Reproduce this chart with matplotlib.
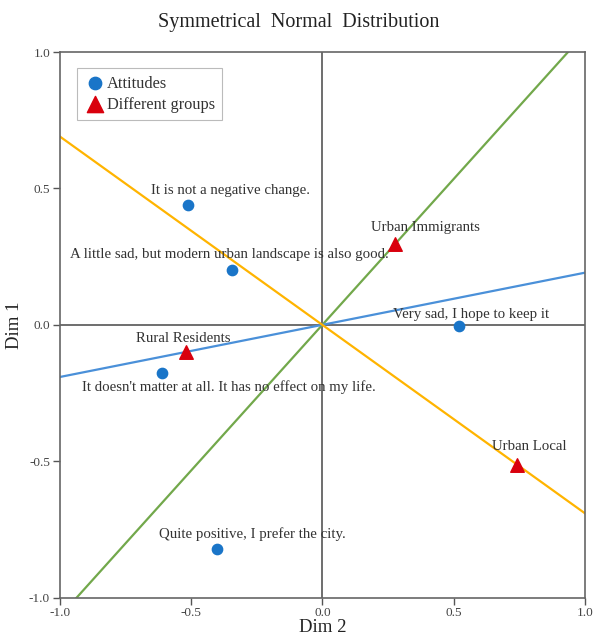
import numpy as np
import matplotlib.pyplot as plt

# ----------------------------
# Data
# ----------------------------
ATT_LABELS = [
    "It is not a negative change.",
    "A little sad, but modern urban landscape is also good.",
    "Very sad, I hope to keep it",
    "It doesn't matter at all. It has no effect on my life.",
    "Quite positive, I prefer the city.",
]
ATT_DIM2 = [-0.51, -0.343, 0.52, -0.61, -0.40]
ATT_DIM1 = [0.44, 0.20, -0.005, -0.175, -0.82]

GRP_LABELS = ["Urban Immigrants", "Rural Residents", "Urban Local"]
GRP_DIM2 = [0.278, -0.518, 0.743]
GRP_DIM1 = [0.297, -0.099, -0.513]

# label offsets in pixels (dx, dy)
ATT_OFFSETS = [(42, 14), (-3, 16), (12, 12), (67, -15), (35, 14)]
GRP_OFFSETS = [(30, 16), (-3, 13), (12, 18)]
GRP_LINE_COLORS = ["#72a84b", "#4a90d9", "#ffb400"]

plt.rcParams.update({
    "font.family": ["Liberation Serif", "DejaVu Serif"],
    "text.color": "#333333",
    "axes.edgecolor": "#666666",
    "xtick.color": "#555555",
    "ytick.color": "#555555",
    "xtick.labelcolor": "#444444",
    "ytick.labelcolor": "#444444",
})

fig = plt.figure(figsize=(5.98, 6.42), dpi=100)
ax = fig.add_axes([0.100, 0.069, 0.878, 0.850])

ax.set_xlim(-1, 1)
ax.set_ylim(-1, 1)

ax.axhline(0, color="#555555", lw=1.2, zorder=1)
ax.axvline(0, color="#555555", lw=1.2, zorder=1)

# lines from the origin through each group point, extended to the frame
xs = np.array([-1.2, 1.2])
for gx, gy, c in zip(GRP_DIM2, GRP_DIM1, GRP_LINE_COLORS):
    ax.plot(xs, xs * gy / gx, color=c, lw=1.6, zorder=2)

ax.scatter(ATT_DIM2, ATT_DIM1, s=55, color="#1a75c8", marker="o",
           zorder=4, label="Attitudes")
ax.scatter(GRP_DIM2, GRP_DIM1, s=95, color="#d9000d", marker="^",
           zorder=4, label="Different groups")

for txt, x, y, off in zip(ATT_LABELS, ATT_DIM2, ATT_DIM1, ATT_OFFSETS):
    ax.annotate(txt, (x, y), xytext=off, textcoords="offset pixels",
                ha="center", va="center", fontsize=10.7, zorder=5)
for txt, x, y, off in zip(GRP_LABELS, GRP_DIM2, GRP_DIM1, GRP_OFFSETS):
    ax.annotate(txt, (x, y), xytext=off, textcoords="offset pixels",
                ha="center", va="center", fontsize=10.7, zorder=5)

ticks = [-1.0, -0.5, 0.0, 0.5, 1.0]
ax.set_xticks(ticks)
ax.set_yticks(ticks)
ax.set_xticklabels([f"{t:.1f}" for t in ticks])
ax.set_yticklabels([f"{t:.1f}" for t in ticks])
ax.tick_params(direction="out", length=5, width=1, labelsize=9.5, pad=2)
for sp in ax.spines.values():
    sp.set_linewidth(1.2)

ax.set_xlabel("Dim 2", fontsize=13.5, color="#222222", labelpad=0)
ax.set_ylabel("Dim 1", fontsize=13.5, color="#222222", labelpad=4)
fig.suptitle("Symmetrical  Normal  Distribution", fontsize=14.5,
             color="#222222", y=0.98)

leg = ax.legend(loc="upper left", bbox_to_anchor=(0.032, 0.97), fontsize=11.8,
                frameon=True, fancybox=False, handletextpad=0.1,
                borderpad=0.45, labelspacing=0.3, handlelength=1.3,
                borderaxespad=0.0, markerscale=1.2)
leg.get_frame().set_edgecolor("#aaaaaa")
leg.get_frame().set_linewidth(0.8)

fig.savefig("out.png", dpi=100)
